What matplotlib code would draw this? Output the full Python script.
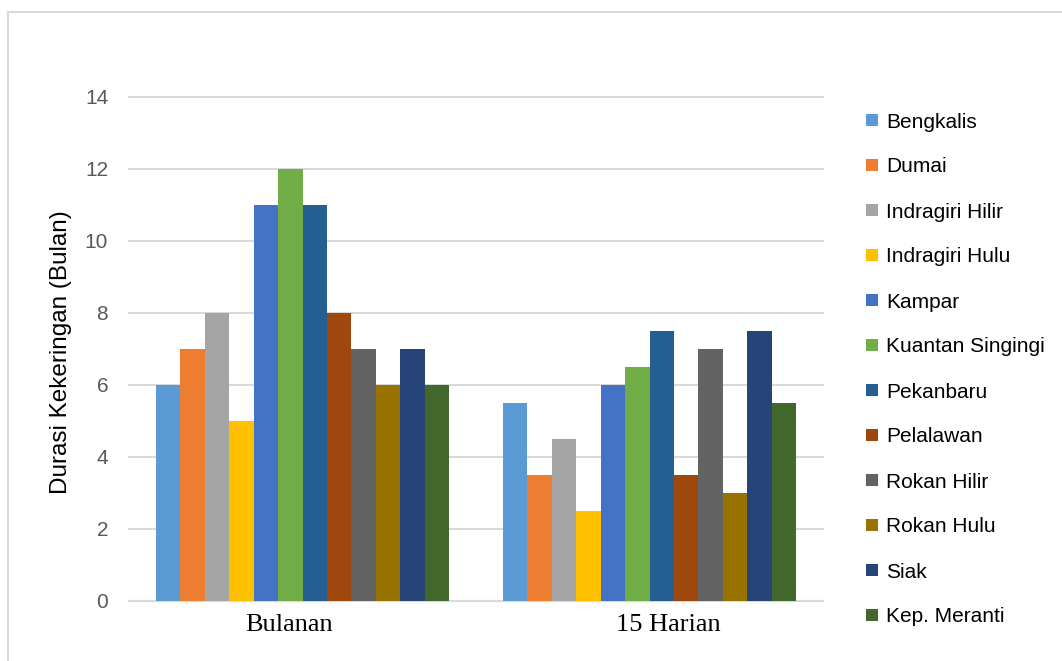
import matplotlib
matplotlib.use("Agg")
import matplotlib.pyplot as plt
from matplotlib.lines import Line2D
from matplotlib.patches import Rectangle
from matplotlib.transforms import ScaledTranslation

categories = ["Bulanan", "15 Harian"]
regions = ["Bengkalis", "Dumai", "Indragiri Hilir", "Indragiri Hulu", "Kampar",
           "Kuantan Singingi", "Pekanbaru", "Pelalawan", "Rokan Hilir",
           "Rokan Hulu", "Siak", "Kep. Meranti"]
bulanan = [6, 7, 8, 5, 11, 12, 11, 8, 7, 6, 7, 6]
harian15 = [5.5, 3.5, 4.5, 2.5, 6, 6.5, 7.5, 3.5, 7, 3, 7.5, 5.5]
colors = ["#5B9BD5", "#ED7D31", "#A5A5A5", "#FFC000", "#4472C4", "#70AD47",
          "#255E91", "#9E480E", "#636363", "#997300", "#264478", "#43682B"]
yticks = [0, 2, 4, 6, 8, 10, 12, 14]

W, H = 1062, 661
fig = plt.figure(figsize=(W / 100, H / 100), dpi=100)
ax_left, ax_right, ax_top, ax_bot = 129, 823, 97, 601
ax = fig.add_axes([ax_left / W, 1 - ax_bot / H, (ax_right - ax_left) / W, (ax_bot - ax_top) / H])

n = len(regions)
w = 0.0705
for j, (name, col) in enumerate(zip(regions, colors)):
    vals = [bulanan[j], harian15[j]]
    xs = [i + (j - (n - 1) / 2) * w for i in range(len(categories))]
    ax.bar(xs, vals, width=w, color=col, label=name, zorder=3, linewidth=0)

ax.set_xlim(-0.5, 1.5)
ax.set_ylim(0, 14)
ax.set_yticks(yticks)
ax.set_yticklabels([str(t) for t in yticks], fontsize=15, color="#595959",
                   fontfamily="Liberation Sans")
ax.set_xticks(range(len(categories)))
ax.set_xticklabels(categories, fontsize=19, fontfamily="Liberation Serif", color="black")
ax.tick_params(axis="both", length=0)
ax.tick_params(axis="y", pad=15)
ax.tick_params(axis="x", pad=9.6)
label_shift_px = [-13, 18.5]
for lbl, dx in zip(ax.get_xticklabels(), label_shift_px):
    lbl.set_transform(lbl.get_transform() + ScaledTranslation(dx / 100, 0, fig.dpi_scale_trans))
ax.grid(axis="y", color="#D9D9D9", linewidth=1.5, zorder=0)
ax.set_axisbelow(True)
for s in ["top", "right", "left"]:
    ax.spines[s].set_visible(False)
ax.spines["bottom"].set_color("#D9D9D9")
ax.spines["bottom"].set_linewidth(1.5)
for gl in ax.get_ygridlines():
    gl.set_clip_on(False)

fig.text(61 / W, 1 - 352 / H, "Durasi Kekeringan (Bulan)", rotation=90,
         ha="center", va="center", fontsize=17.5, fontfamily="Liberation Sans", color="black")

# legend
for j, (name, col) in enumerate(zip(regions, colors)):
    yc = 120 + 45 * j
    fig.patches.append(Rectangle((866 / W, 1 - (yc + 6) / H), 12 / W, 12 / H,
                                 transform=fig.transFigure, facecolor=col, edgecolor="none"))
    fig.text(886 / W, 1 - (yc + 7.5) / H, name, ha="left", va="baseline", fontsize=15,
             fontfamily="Liberation Sans", color="black")

# outer border
fig.add_artist(Line2D([8 / W, 8 / W], [0, 1 - 12 / H], transform=fig.transFigure,
                      color="#D9D9D9", linewidth=1.5))
fig.add_artist(Line2D([8 / W, 1], [1 - 12 / H, 1 - 12 / H], transform=fig.transFigure,
                      color="#D9D9D9", linewidth=1.5))

fig.savefig("out.png", dpi=100)
